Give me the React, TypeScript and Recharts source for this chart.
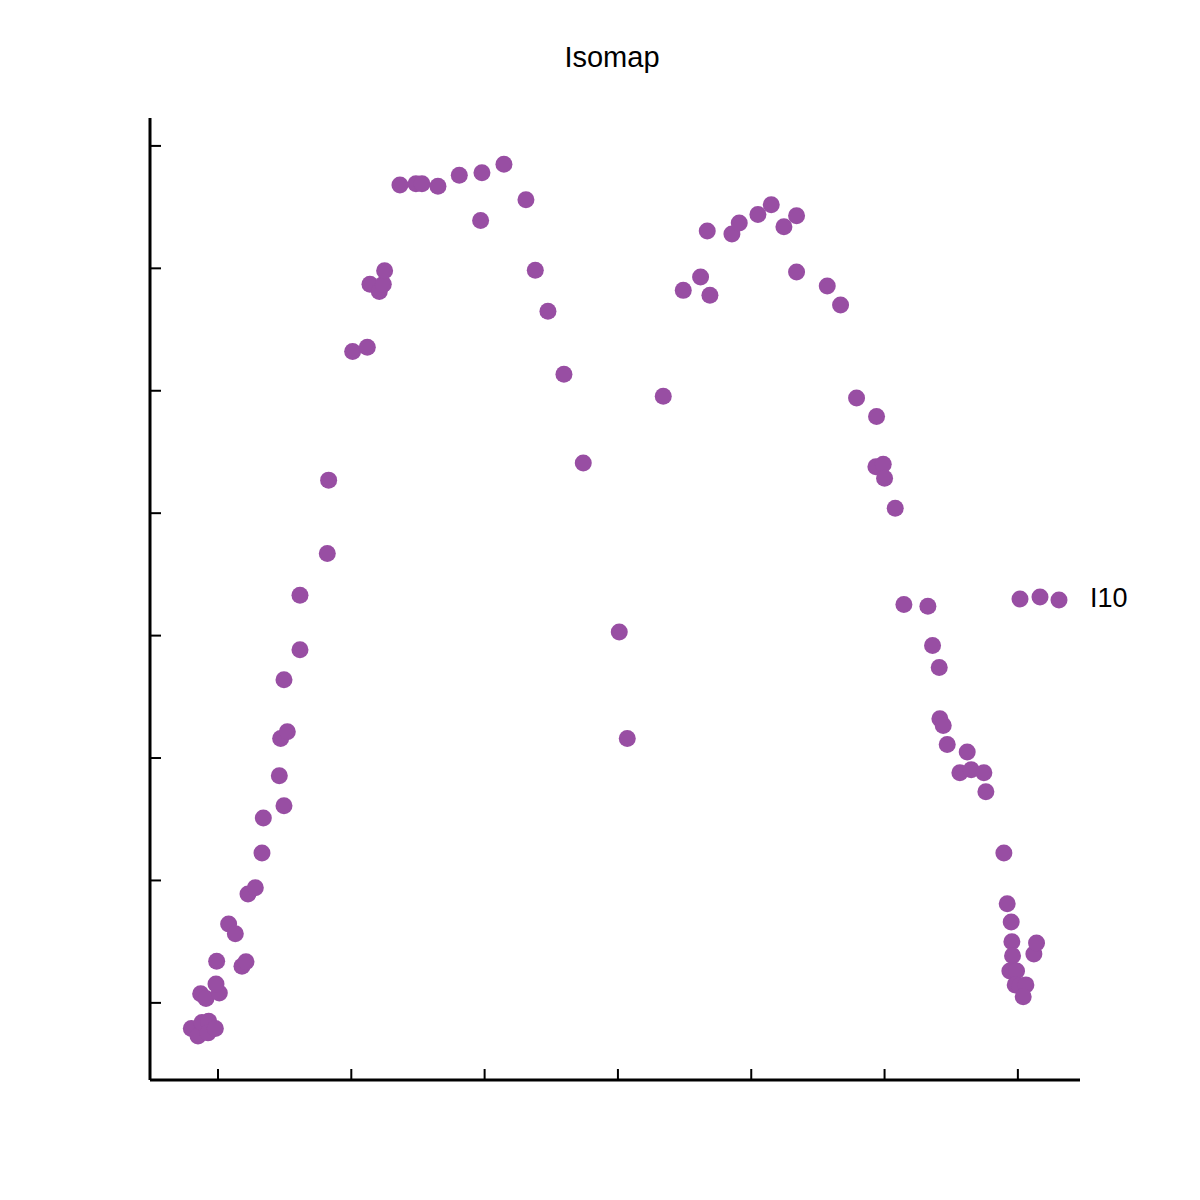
import { ScatterChart, Scatter, XAxis, YAxis } from "recharts";

const PURPLE = "#984ea3";
const FONT = '"Liberation Sans", Arial, sans-serif';

// embedding coordinates
const xs = [
  -0.2, -0.15, -0.12, -0.07, -0.075, -0.02,
  -0.13, -0.09, 0.01, -0.015, -0.01,
  0.08, 0.13, 0.18, 0.21,
  0.225, 0.28, 0.33, 0.34, 0.46, 0.495, 0.47, 0.52,
  0.495, 0.615, 0.615, 0.82, 0.83,
  1.01, 1.12, 1.14, 1.21, 1.24, 1.25,
  1.365, 1.485, 1.53, 1.65, 1.81, 1.98, 2.145,
  1.97, 2.31, 2.38, 2.475, 2.595, 2.74,
  3.01, 3.07, 3.34,
  3.49, 3.62, 3.69, 3.67,
  3.855, 3.91, 4.05, 4.15, 4.245, 4.34, 4.34,
  4.57, 4.67,
  4.79, 4.94, 4.935, 4.99, 5.0, 5.08,
  5.145, 5.325, 5.36, 5.41,
  5.415, 5.44, 5.47,
  5.62, 5.565, 5.65, 5.745, 5.76,
  5.895, 5.92, 5.95, 5.955,
  5.96, 5.94, 5.99, 5.98, 6.015, 6.06, 6.04,
  6.12, 6.14,
];
const ys = [
  -0.21, -0.27, -0.16, -0.15, -0.245, -0.21,
  0.075, 0.035, 0.08, 0.155, 0.34,
  0.645, 0.565, 0.3, 0.335,
  0.89, 0.94, 1.225, 1.51, 1.855, 1.61, 2.16, 2.215,
  2.64, 2.885, 3.33, 3.67, 4.27,
  5.32, 5.355, 5.87, 5.81, 5.87, 5.98,
  6.68, 6.69, 6.69, 6.67, 6.76, 6.78, 6.85,
  6.39, 6.56, 5.985, 5.65, 5.135, 4.41,
  3.03, 2.16, 4.955,
  5.82, 5.93, 5.78, 6.305,
  6.28, 6.37, 6.44, 6.52, 6.34, 6.43, 5.97,
  5.855, 5.7,
  4.94, 4.79, 4.38, 4.4, 4.285, 4.04,
  3.255, 3.24, 2.92, 2.74,
  2.32, 2.265, 2.11,
  2.05, 1.88, 1.905, 1.88, 1.725,
  1.225, 0.81, 0.66, 0.5,
  0.385, 0.26, 0.26, 0.147, 0.14, 0.147, 0.05,
  0.4, 0.49,
];
const xTicks = [0, 1, 2, 3, 4, 5, 6];
const yTicks = [0, 1, 2, 3, 4, 5, 6, 7];
const seriesName = "I10";

const points = xs.map((x, i) => ({ x, y: ys[i] }));

const Dot = (props: any) => (
  <circle cx={props.cx} cy={props.cy} r={8.5} fill={PURPLE} />
);

const NoLabel = () => <g />;

export default function App() {
  return (
    <div style={{ position: "absolute", left: 0, top: 0, width: 1200, height: 1200, background: "#fff" }}>
      <div
        style={{
          position: "absolute",
          left: 512,
          top: 43,
          width: 200,
          textAlign: "center",
          fontFamily: FONT,
          fontSize: 29,
          lineHeight: "29px",
          color: "#000",
        }}
      >
        Isomap
      </div>
      <ScatterChart
        width={1200}
        height={1200}
        margin={{ top: 118, right: 120, bottom: 120, left: 150 }}
      >
        <XAxis
          type="number"
          dataKey="x"
          domain={[-0.51, 6.466]}
          allowDataOverflow
          ticks={xTicks}
          height={1}
          mirror
          tickSize={11}
          tick={NoLabel}
          axisLine={{ stroke: "#000", strokeWidth: 3 }}
          tickLine={{ stroke: "#000", strokeWidth: 2 }}
        />
        <YAxis
          type="number"
          dataKey="y"
          domain={[-0.63, 7.228]}
          allowDataOverflow
          ticks={yTicks}
          width={1}
          mirror
          tickSize={11}
          tick={NoLabel}
          axisLine={{ stroke: "#000", strokeWidth: 3 }}
          tickLine={{ stroke: "#000", strokeWidth: 2 }}
        />
        <Scatter
          name={seriesName}
          data={points}
          fill={PURPLE}
          shape={Dot}
          isAnimationActive={false}
        />
      </ScatterChart>
      <svg
        width={170}
        height={50}
        style={{ position: "absolute", left: 1000, top: 575 }}
      >
        <circle cx={20} cy={24} r={8.5} fill={PURPLE} />
        <circle cx={40} cy={22} r={8.5} fill={PURPLE} />
        <circle cx={59} cy={25} r={8.5} fill={PURPLE} />
        <text x={90} y={32} fontSize={27} fontFamily={FONT} fill="#000">
          {seriesName}
        </text>
      </svg>
    </div>
  );
}
